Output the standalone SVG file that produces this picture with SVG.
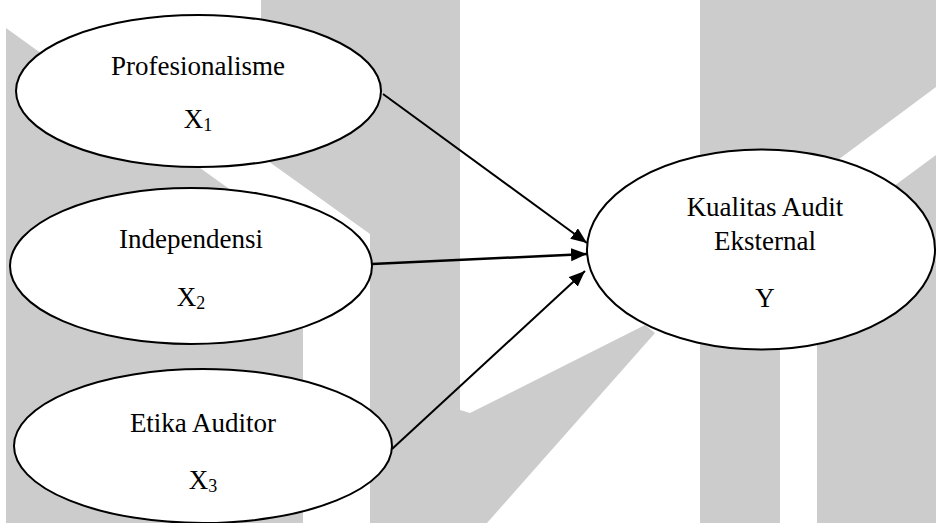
<svg xmlns="http://www.w3.org/2000/svg" width="936" height="523" viewBox="0 0 936 523">
  <style>
    .wm { fill: #cccccc; stroke: none; }
    .node ellipse { fill: #ffffff; stroke: #000000; stroke-width: 2; }
    .lbl { font-family: "Liberation Serif", "Times New Roman", serif; font-size: 27px; fill: #000000; text-anchor: middle; }
    .sub { font-size: 18px; }
    .edge { stroke: #000000; stroke-width: 2; fill: none; marker-end: url(#arrow); }
  </style>
  <defs>
    <marker id="arrow" markerUnits="userSpaceOnUse" markerWidth="18" markerHeight="14" refX="16" refY="6.5" orient="auto">
      <path d="M0,0 L16,6.5 L0,13 z" fill="#000000"/>
    </marker>
  </defs>
  <rect width="936" height="523" fill="#ffffff"/>
  <g id="watermark">
    <polygon class="wm" points="6,28 303,242 303,523 6,523"/>
    <polygon class="wm" points="261,0 460,0 460,410 470,413 645,325 655,333 487,523 370,523 370,234 261,156"/>
    <polygon class="wm" points="700,0 936,0 936,87 780,203 780,523 700,523"/>
    <polygon class="wm" points="936,155 817,243 817,523 936,523"/>
  </g>
  <g id="connectors">
    <line class="edge" x1="383" y1="94" x2="587" y2="243"/>
    <line class="edge" x1="372" y1="264" x2="587" y2="254" style="stroke-width:2.5"/>
    <line class="edge" x1="392" y1="449" x2="585" y2="271"/>
  </g>
  <g id="node-x1" class="node">
    <ellipse cx="198.5" cy="91" rx="182.5" ry="76"/>
    <text class="lbl" x="198" y="75">Profesionalisme</text>
    <text class="lbl" x="198" y="128">X<tspan class="sub" dy="3">1</tspan></text>
  </g>
  <g id="node-x2" class="node">
    <ellipse cx="191" cy="266" rx="181" ry="78"/>
    <text class="lbl" x="191" y="248">Independensi</text>
    <text class="lbl" x="191" y="306">X<tspan class="sub" dy="3">2</tspan></text>
  </g>
  <g id="node-x3" class="node">
    <ellipse cx="203" cy="446" rx="189" ry="77"/>
    <text class="lbl" x="203" y="432">Etika Auditor</text>
    <text class="lbl" x="203" y="489">X<tspan class="sub" dy="3">3</tspan></text>
  </g>
  <g id="node-y" class="node">
    <ellipse cx="761" cy="249.5" rx="174" ry="100"/>
    <text class="lbl" x="765" y="216">Kualitas Audit</text>
    <text class="lbl" x="765" y="250">Eksternal</text>
    <text class="lbl" x="765" y="307">Y</text>
  </g>
</svg>
